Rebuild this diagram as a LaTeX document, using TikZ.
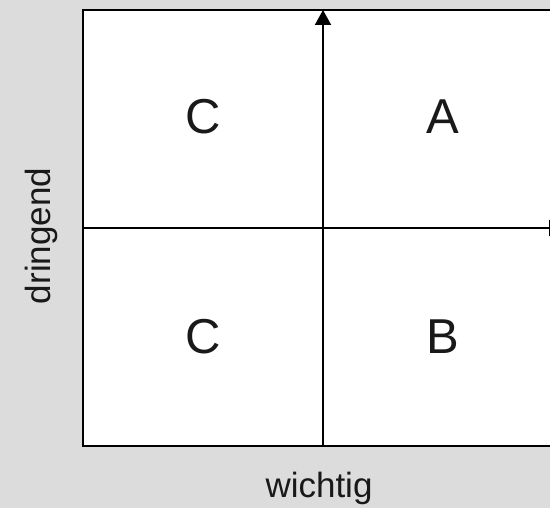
\documentclass[tikz,border=0pt]{standalone}
\usepackage{fontspec}
\setmainfont{Liberation Sans}
\usetikzlibrary{arrows.meta}
\definecolor{bggray}{HTML}{DCDCDC}

\begin{document}
\begin{tikzpicture}
[
	x=1pt,
	y=-1pt,
	quadlabel/.style={font=\fontsize{49}{49}\selectfont,text=black!90},
	axislabel/.style={font=\fontsize{35}{35}\selectfont,text=black!90},
	axis/.style={line width=2pt,-{Triangle[width=16pt,length=15pt]}}
]

	% background
	\fill[bggray] (0,0) rectangle (550,508);
	\useasboundingbox (0,0) rectangle (550,508);
	\clip (0,0) rectangle (550,508);

	% matrix frame
	\fill[white] (83,10) rectangle (600,446);
	\draw[line width=2.5pt] (600,10) -- (83,10) -- (83,446) -- (600,446);

	% axes
	\coordinate (xstart) at (83,228);
	\coordinate (xend) at (564,228);
	\coordinate (ystart) at (323,446);
	\coordinate (yend) at (323,10);
	\draw[axis] (xstart) -- (xend);
	\draw[axis] (ystart) -- (yend);

	% quadrant labels
	\node[quadlabel] (topleft) at (203,117) {C};
	\node[quadlabel] (topright) at (443,117) {A};
	\node[quadlabel] (bottomleft) at (203,337) {C};
	\node[quadlabel] (bottomright) at (443,337) {B};

	% axis labels
	\node[axislabel] (important) at (319,488) {wichtig};
	\node[axislabel,rotate=90] (urgent) at (41,236) {dringend};

\end{tikzpicture}
\end{document}
